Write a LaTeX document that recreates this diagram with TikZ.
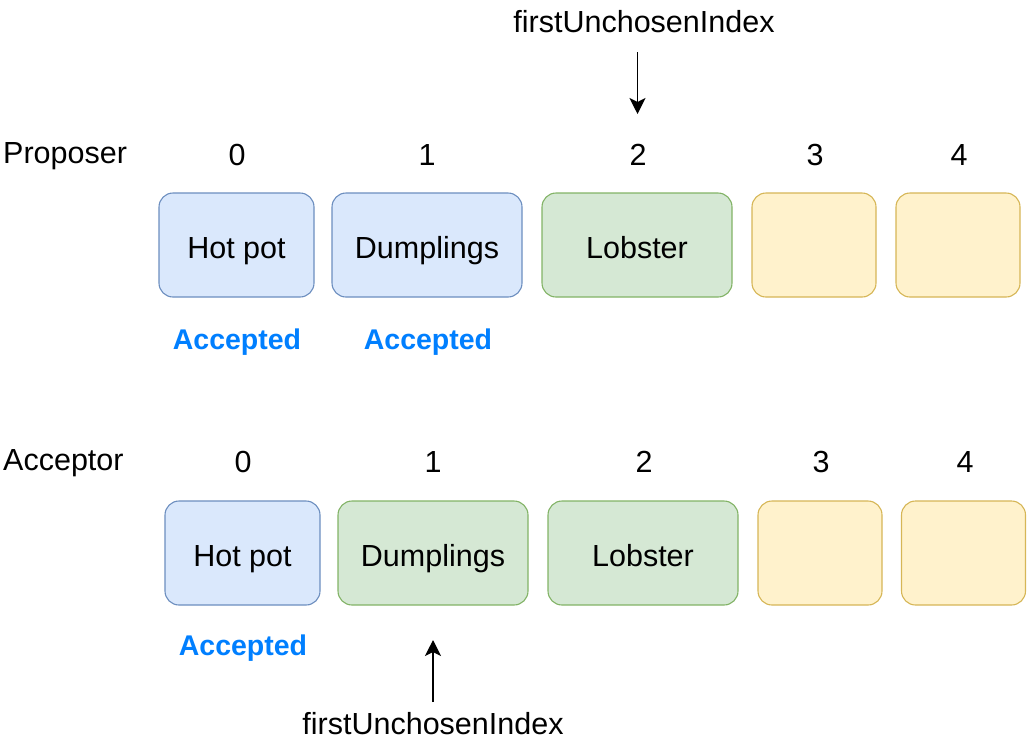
\documentclass[tikz,border=0pt]{standalone}
\usepackage{fontspec}
\setmainfont{Liberation Sans}
\usetikzlibrary{arrows.meta}
\definecolor{bluefill}{HTML}{DAE8FC}
\definecolor{bluedraw}{HTML}{6C8EBF}
\definecolor{greenfill}{HTML}{D5E8D4}
\definecolor{greendraw}{HTML}{82B366}
\definecolor{yellowfill}{HTML}{FFF2CC}
\definecolor{yellowdraw}{HTML}{D6B656}
\definecolor{acceptblue}{HTML}{007FFF}
\begin{document}
\begin{tikzpicture}
    [
  x=1pt, y=-1pt,
  font=\fontsize{30.5}{36}\selectfont,
  slot/.style={
    rectangle,
    rounded corners=14pt,
    line width=1.1pt,
    minimum height=104pt,
    text height=30pt,
    text depth=4pt,
    inner sep=0pt
  },
  wide/.style={slot, minimum width=190pt},
  narrow/.style={slot, minimum width=124pt},
  hotpot/.style={slot, minimum width=155pt},
  bluebox/.style={fill=bluefill, draw=bluedraw},
  greenbox/.style={fill=greenfill, draw=greendraw},
  yellowbox/.style={fill=yellowfill, draw=yellowdraw},
  rowname/.style={anchor=west, inner sep=0pt},
  accepted/.style={
    text=acceptblue,
    font=\fontsize{28.5}{34}\selectfont\bfseries
  },
  pointer/.style={
    line width=1.3pt,
    -{Stealth[length=16pt, width=16pt, inset=4pt]}
  }
  ]
  \useasboundingbox (0,0) rectangle (1027,748);

  % proposer row
  \node (proposer) at (3,156) [rowname] {Proposer};
  \foreach \i/\x in {0/237, 1/427, 2/638, 3/815, 4/959}
    \node (pidx\i) at (\x,155) {\i};
  \node (p0) at (236.5,245) [hotpot, bluebox] {Hot pot};
  \node (p1) at (427,245) [wide, bluebox] {Dumplings};
  \node (p2) at (637,245) [wide, greenbox] {Lobster};
  \node (p3) at (814,245) [narrow, yellowbox] {};
  \node (p4) at (958,245) [narrow, yellowbox] {};
  \node (pacc0) at (237,342) [accepted] {Accepted};
  \node (pacc1) at (428,342) [accepted] {Accepted};
  \node (ptop) at (644,22) {firstUnchosenIndex};
  \coordinate (ptail) at (637.5,52);
  \coordinate (ptip) at (637.5,114);
  \draw [pointer] (ptail) -- (ptip);

  % acceptor row
  \node (acceptor) at (3,463) [rowname] {Acceptor};
  \foreach \i/\x in {0/243, 1/433, 2/644, 3/821, 4/965}
    \node (aidx\i) at (\x,462) {\i};
  \node (a0) at (242.5,553) [hotpot, bluebox] {Hot pot};
  \node (a1) at (433,553) [wide, greenbox] {Dumplings};
  \node (a2) at (643,553) [wide, greenbox] {Lobster};
  \node (a3) at (820,553) [narrow, yellowbox] {};
  \node (a4) at (963.5,553) [narrow, yellowbox] {};
  \node (aacc0) at (243,648) [accepted] {Accepted};
  \node (abottom) at (433,724) {firstUnchosenIndex};
  \coordinate (atail) at (433,702);
  \coordinate (atip) at (433,640);
  \draw [pointer] (atail) -- (atip);
\end{tikzpicture}
\end{document}
